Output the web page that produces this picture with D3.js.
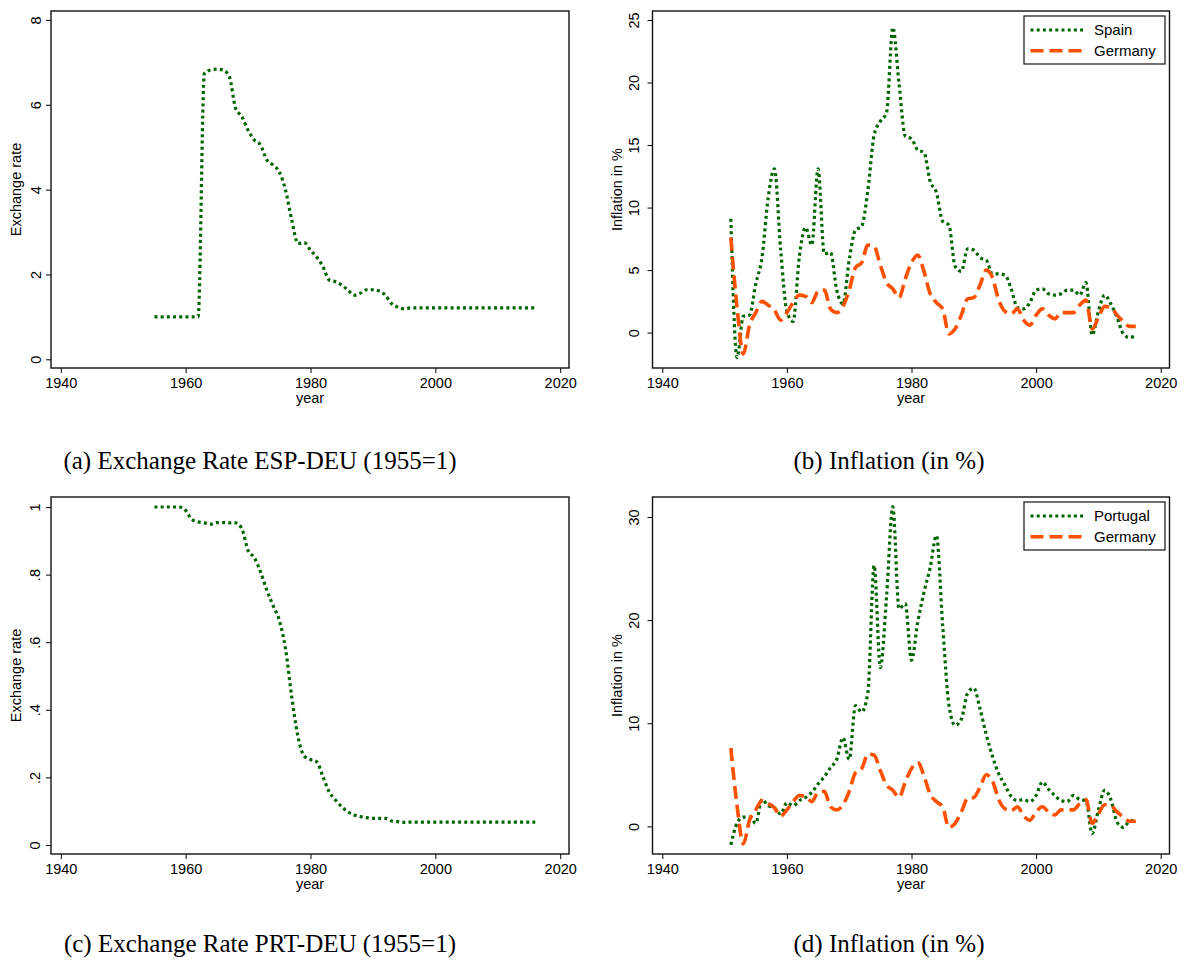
<!DOCTYPE html>
<html>
<head>
<meta charset="utf-8">
<script src="https://cdn.jsdelivr.net/npm/d3@7"></script>
<style>
  body { margin: 0; background: #fff; }
  svg text { font-family: "Liberation Sans", Arial, sans-serif; fill: #000; }
  .caption { font-family: "Liberation Serif", "Times New Roman", serif; }
</style>
</head>
<body>
<svg id="fig" width="1185" height="963"></svg>
<script>
// ---- data ----
var yearsFx = [1955, 1956, 1957, 1958, 1959,
  1960, 1961, 1962, 1963, 1964, 1965, 1966, 1967, 1968, 1969,
  1970, 1971, 1972, 1973, 1974, 1975, 1976, 1977, 1978, 1979,
  1980, 1981, 1982, 1983, 1984, 1985, 1986, 1987, 1988, 1989,
  1990, 1991, 1992, 1993, 1994, 1995, 1996, 1997, 1998, 1999,
  2000, 2001, 2002, 2003, 2004, 2005, 2006, 2007, 2008, 2009,
  2010, 2011, 2012, 2013, 2014, 2015, 2016]

var yearsInfl = [1951, 1952, 1953, 1954, 1955, 1956, 1957, 1958, 1959, 1960,
  1961, 1962, 1963, 1964, 1965, 1966, 1967, 1968, 1969, 1970,
  1971, 1972, 1973, 1974, 1975, 1976, 1977, 1978, 1979, 1980,
  1981, 1982, 1983, 1984, 1985, 1986, 1987, 1988, 1989, 1990,
  1991, 1992, 1993, 1994, 1995, 1996, 1997, 1998, 1999, 2000,
  2001, 2002, 2003, 2004, 2005, 2006, 2007, 2008, 2009, 2010,
  2011, 2012, 2013, 2014, 2015, 2016]

// exchange rate ESP-DEU, 1955=1
var espDeu = [1, 1, 1, 1, 1,
  1, 1, 1, 6.74, 6.82, 6.84, 6.82, 6.66, 5.92, 5.72,
  5.40, 5.17, 5.05, 4.70, 4.58, 4.42, 3.99, 3.28, 2.73, 2.75,
  2.57, 2.41, 2.18, 1.87, 1.83, 1.75, 1.63, 1.51, 1.56, 1.64,
  1.64, 1.61, 1.51, 1.31, 1.23, 1.19, 1.21, 1.21, 1.21, 1.21,
  1.21, 1.21, 1.21, 1.21, 1.21, 1.21, 1.21, 1.21, 1.21, 1.21,
  1.21, 1.21, 1.21, 1.21, 1.21, 1.21, 1.21]

// exchange rate PRT-DEU, 1955=1
var prtDeu = [1, 1, 1, 1, 1,
  0.99, 0.963, 0.956, 0.953, 0.949, 0.954, 0.954, 0.953, 0.953, 0.936,
  0.872, 0.85, 0.808, 0.754, 0.709, 0.665, 0.58, 0.438, 0.32, 0.263,
  0.253, 0.246, 0.202, 0.157, 0.133, 0.113, 0.098, 0.089, 0.084, 0.081,
  0.079, 0.079, 0.079, 0.071, 0.069, 0.067, 0.068, 0.068, 0.068, 0.068,
  0.068, 0.068, 0.068, 0.068, 0.068, 0.068, 0.068, 0.068, 0.068, 0.068,
  0.068, 0.068, 0.068, 0.068, 0.068, 0.068, 0.068]

var spainInfl = [9.1, -2.0, 1.3, 1.4, 3.9, 6.0, 10.8, 13.1, 6.6, 1.7,
  0.9, 6.1, 8.4, 7.0, 13.1, 6.3, 6.4, 3.4, 2.3, 5.8,
  8.2, 8.5, 11.4, 15.8, 16.9, 17.6, 24.4, 19.9, 15.7, 15.5,
  14.6, 14.4, 12.1, 11.2, 8.9, 8.6, 5.3, 4.9, 6.7, 6.6,
  6.0, 5.8, 4.7, 4.7, 4.6, 3.5, 2.0, 1.9, 2.4, 3.4,
  3.5, 3.1, 3.0, 3.1, 3.4, 3.4, 3.0, 4.0, -0.2, 1.7,
  3.0, 2.3, 1.2, -0.1, -0.4, -0.2]

var germanyInfl = [7.6, 2.0, -1.7, 0.6, 1.6, 2.5, 2.2, 1.8, 1.0, 1.6,
  2.4, 3.0, 2.9, 2.4, 3.3, 3.4, 1.9, 1.6, 2.1, 3.4,
  5.2, 5.6, 7.0, 6.9, 5.4, 4.0, 3.5, 2.8, 4.3, 5.6,
  6.2, 4.9, 3.1, 2.4, 1.9, -0.1, 0.3, 1.4, 2.7, 2.8,
  3.8, 5.0, 4.4, 2.6, 1.7, 1.5, 1.9, 1.0, 0.6, 1.4,
  1.9, 1.4, 1.1, 1.6, 1.6, 1.6, 2.2, 2.6, 0.3, 1.2,
  2.1, 2.0, 1.4, 0.9, 0.5, 0.5]

var portugalInfl = [-1.8, 0.3, 0.9, 0.9, 0.3, 2.6, 2.0, 1.8, 1.2, 2.3,
  2.0, 2.5, 2.8, 3.3, 4.1, 4.8, 5.7, 6.5, 8.6, 6.5,
  11.7, 11.1, 13.0, 25.3, 15.4, 22.3, 31.0, 21.1, 21.6, 16.1,
  19.8, 22.7, 25.1, 28.2, 19.5, 11.8, 9.8, 10.4, 12.9, 13.4,
  11.4, 8.9, 6.8, 5.1, 4.0, 2.9, 2.5, 2.6, 2.4, 3.0,
  4.3, 3.6, 3.0, 2.5, 2.4, 3.0, 2.6, 2.5, -0.7, 1.6,
  3.5, 2.6, 0.4, -0.1, 0.5, 0.6]

var xTicks = [1940, 1960, 1980, 2000, 2020]
var fxTicksA = [0, 2, 4, 6, 8]
var fxLabelsA = ["0", "2", "4", "6", "8"]
var fxTicksC = [0, 0.2, 0.4, 0.6, 0.8, 1]
var fxLabelsC = ["0", ".2", ".4", ".6", ".8", "1"]
var inflTicksB = [0, 5, 10, 15, 20, 25]
var inflTicksD = [0, 10, 20, 30]

var captions = ["(a) Exchange Rate ESP-DEU (1955=1)", "(b) Inflation (in %)",
  "(c) Exchange Rate PRT-DEU (1955=1)", "(d) Inflation (in %)"]

var green = "#006400"
var orange = "#ff5000"

var svg = d3.select("#fig")

function drawPanel(p) {
  var g = svg.append("g")

  var x = d3.scaleLinear().domain([1940, 2020]).range([p.x0 + 9.8, p.x1 - 8.8])
  var y = d3.scaleLinear().domain(p.yDomain).range([p.y1, p.y0])

  // x axis
  var xa = g.append("g")
    .attr("transform", "translate(0," + p.y1 + ")")
    .call(d3.axisBottom(x).tickValues(xTicks).tickSize(5).tickPadding(5).tickFormat(d3.format("d")))
  xa.select(".domain").remove()
  xa.selectAll("text").style("font-size", "14.5px").style("font-family", "Liberation Sans, Arial, sans-serif")

  // y axis, labels turned like stata does it
  var ya = g.append("g")
    .attr("transform", "translate(" + p.x0 + ",0)")
    .call(d3.axisLeft(y).tickValues(p.yTicks).tickSize(5).tickFormat(function (d, i) { return p.yLabels[i] }))
  ya.select(".domain").remove()
  ya.selectAll("text")
    .attr("x", 0).attr("y", -p.labOff).attr("dy", null)
    .attr("transform", "rotate(-90)")
    .attr("text-anchor", "middle")
    .style("font-size", "14.5px").style("font-family", "Liberation Sans, Arial, sans-serif")

  // titles
  g.append("text")
    .attr("x", (p.x0 + p.x1) / 2).attr("y", p.y1 + 35)
    .attr("text-anchor", "middle").style("font-size", "14.5px")
    .text("year")
  g.append("text")
    .attr("transform", "translate(" + (p.x0 - 30.5) + "," + (p.y0 + p.y1) / 2 + ") rotate(-90)")
    .attr("text-anchor", "middle").style("font-size", "14.5px")
    .text(p.yTitle)

  // lines
  p.series.forEach(function (s) {
    var line = d3.line()
      .x(function (d, i) { return x(s.years[i]) })
      .y(function (d) { return y(d) })
      .curve(d3.curveMonotoneX)
    g.append("path")
      .datum(s.values)
      .attr("fill", "none")
      .attr("stroke", s.color)
      .attr("stroke-width", s.width)
      .attr("stroke-dasharray", s.dash)
      .attr("d", line)
  })

  // frame
  g.append("rect")
    .attr("x", p.x0).attr("y", p.y0)
    .attr("width", p.x1 - p.x0).attr("height", p.y1 - p.y0)
    .attr("fill", "none").attr("stroke", "#111").attr("stroke-width", 1.4)

  // legend
  if (p.legend) {
    var lg = g.append("g")
    lg.append("rect")
      .attr("x", p.legend.x).attr("y", p.legend.y)
      .attr("width", 141).attr("height", 48)
      .attr("fill", "#fff").attr("stroke", "#111").attr("stroke-width", 1.2)
    p.series.forEach(function (s, i) {
      var cy = p.legend.y + 14 + i * 20.7
      lg.append("line")
        .attr("x1", p.legend.x + 6.5).attr("x2", p.legend.x + 61)
        .attr("y1", cy).attr("y2", cy)
        .attr("stroke", s.color).attr("stroke-width", s.width)
        .attr("stroke-dasharray", s.dash)
      lg.append("text")
        .attr("x", p.legend.x + 70).attr("y", cy).attr("dy", "0.35em")
        .style("font-size", "15px")
        .text(s.name)
    })
  }

  // caption
  svg.append("text")
    .attr("class", "caption")
    .attr("x", p.capX).attr("y", p.capY)
    .attr("text-anchor", "middle")
    .style("font-size", "25px")
    .style("font-family", "Liberation Serif, Times New Roman, serif")
    .text(p.caption)
}

var dotted = "3,3.2"
var dashed = "13,6"

drawPanel({
  x0: 51, x1: 569, y0: 11, y1: 368,
  yDomain: [-0.205, 8.21], yTicks: fxTicksA, yLabels: fxLabelsA, labOff: 10.5,
  yTitle: "Exchange rate",
  series: [{ name: "ESP-DEU", years: yearsFx, values: espDeu, color: green, width: 3.2, dash: dotted }],
  caption: captions[0], capX: 260, capY: 469
})

drawPanel({
  x0: 652.5, x1: 1169.5, y0: 11, y1: 368,
  yDomain: [-2.83, 25.72], yTicks: inflTicksB, yLabels: inflTicksB.map(String), labOff: 14,
  yTitle: "Inflation in %",
  series: [
    { name: "Spain", years: yearsInfl, values: spainInfl, color: green, width: 3.2, dash: dotted },
    { name: "Germany", years: yearsInfl, values: germanyInfl, color: orange, width: 3.6, dash: dashed }
  ],
  legend: { x: 1024, y: 16 },
  caption: captions[1], capX: 889, capY: 469
})

drawPanel({
  x0: 51, x1: 569, y0: 497, y1: 854,
  yDomain: [-0.0266, 1.0296], yTicks: fxTicksC, yLabels: fxLabelsC, labOff: 11.5,
  yTitle: "Exchange rate",
  series: [{ name: "PRT-DEU", years: yearsFx, values: prtDeu, color: green, width: 3.2, dash: dotted }],
  caption: captions[2], capX: 260, capY: 952
})

drawPanel({
  x0: 652.5, x1: 1169.5, y0: 497, y1: 854,
  yDomain: [-2.68, 31.94], yTicks: inflTicksD, yLabels: inflTicksD.map(String), labOff: 14,
  yTitle: "Inflation in %",
  series: [
    { name: "Portugal", years: yearsInfl, values: portugalInfl, color: green, width: 3.2, dash: dotted },
    { name: "Germany", years: yearsInfl, values: germanyInfl, color: orange, width: 3.6, dash: dashed }
  ],
  legend: { x: 1024, y: 502 },
  caption: captions[3], capX: 889, capY: 952
})
</script>
</body>
</html>
